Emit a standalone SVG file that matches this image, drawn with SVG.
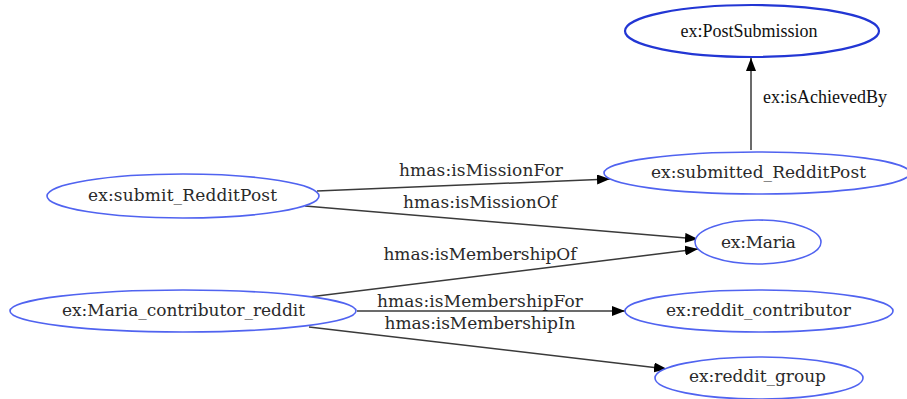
<svg xmlns="http://www.w3.org/2000/svg" width="907" height="399" viewBox="0 0 907 399">
<defs>
<marker id="ah" viewBox="0 0 13 10" refX="13" refY="5" markerWidth="13" markerHeight="10" markerUnits="userSpaceOnUse" orient="auto">
<path d="M0,0 L13,5 L0,10 z" fill="#000"/>
</marker>
<style>
.n{fill:#fff;stroke:#5063f0;stroke-width:1.6}
.n2{fill:#fff;stroke:#2236d4;stroke-width:2.2}
text{font-family:"DejaVu Serif",serif;font-size:17px;fill:#2a2a2a;text-anchor:middle}
text.t{font-family:"Liberation Serif","Times New Roman",serif;font-size:18px;fill:#111}
.e{stroke:#3a3a3a;stroke-width:1.5;fill:none;marker-end:url(#ah)}
</style>
</defs>
<rect width="907" height="399" fill="#fff"/>
<g id="edges">
<path class="e" d="M751,150 L751,58"/>
<path class="e" d="M317,191 L610,179"/>
<path class="e" d="M305,206 L698,239"/>
<path class="e" d="M309,297 L698,249"/>
<path class="e" d="M357,311 L625,311"/>
<path class="e" d="M309,327 L667,369"/>
<text class="t" x="825" y="103">ex:isAchievedBy</text>
<text x="481" y="176" textLength="164" lengthAdjust="spacing">hmas:isMissionFor</text>
<text x="480" y="208" textLength="154" lengthAdjust="spacing">hmas:isMissionOf</text>
<text x="480" y="260" textLength="193" lengthAdjust="spacing">hmas:isMembershipOf</text>
<text x="480" y="307" textLength="206" lengthAdjust="spacing">hmas:isMembershipFor</text>
<text x="480" y="329" textLength="191" lengthAdjust="spacing">hmas:isMembershipIn</text>
</g>
<g id="PostSubmission"><ellipse class="n2" cx="752" cy="31" rx="127" ry="26"/><text class="t" x="749" y="37">ex:PostSubmission</text></g>
<g id="submitted_RedditPost"><ellipse class="n" cx="757" cy="173" rx="153" ry="21"/><text x="758.5" y="178" textLength="215" lengthAdjust="spacing">ex:submitted_RedditPost</text></g>
<g id="submit_RedditPost"><ellipse class="n" cx="183" cy="196" rx="136" ry="22"/><text x="182.5" y="201" textLength="189" lengthAdjust="spacing">ex:submit_RedditPost</text></g>
<g id="Maria"><ellipse class="n" cx="758" cy="242" rx="63" ry="22"/><text x="758.5" y="248" textLength="75" lengthAdjust="spacing">ex:Maria</text></g>
<g id="Maria_contributor_reddit"><ellipse class="n" cx="183" cy="311" rx="173" ry="21"/><text x="183.5" y="316" textLength="243" lengthAdjust="spacing">ex:Maria_contributor_reddit</text></g>
<g id="reddit_contributor"><ellipse class="n" cx="759" cy="311" rx="134" ry="21"/><text x="758.5" y="316" textLength="185" lengthAdjust="spacing">ex:reddit_contributor</text></g>
<g id="reddit_group"><ellipse class="n" cx="759" cy="378" rx="104" ry="21"/><text x="757.5" y="382" textLength="137" lengthAdjust="spacing">ex:reddit_group</text></g>
</svg>
